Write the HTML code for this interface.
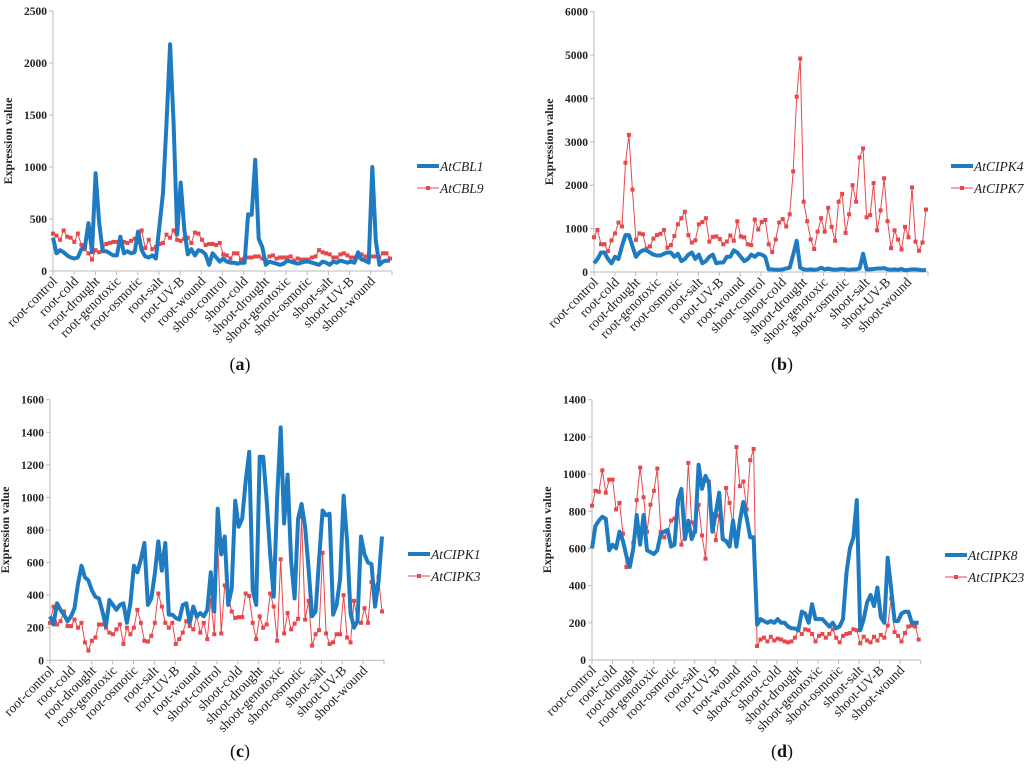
<!DOCTYPE html>
<html><head><meta charset="utf-8">
<style>
html,body{margin:0;padding:0;background:#fff;}
svg, svg text{font-family:"Liberation Serif","DejaVu Serif",serif;}
</style></head>
<body>
<svg id="root" width="1024" height="767" viewBox="0 0 1024 767" xmlns="http://www.w3.org/2000/svg" font-family="Liberation Serif, serif"></svg>
<script>
const categories = ["root-control","root-cold","root-drought","root-genotoxic","root-osmotic","root-salt","root-UV-B","root-wound","shoot-control","shoot-cold","shoot-drought","shoot-genotoxic","shoot-osmotic","shoot-salt","shoot-UV-B","shoot-wound"];

const cbl1 = [320,170,200,180,150,130, 120,130,210,230,460,180, 940,470,190,190,170,150, 150,330,170,190,170,180, 380,200,140,130,150,120, 430,750,1420,2180,1420,350, 850,400,160,210,150,200, 190,160,60,170,130,90, 120,90,80,80,70,80, 80,545,540,1070,310,230, 60,90,80,70,60,70, 100,90,80,70,80,90, 90,80,70,60,90,80, 60,90,80,100,90,80, 90,80,180,110,100,80, 1000,290,60,90,100,100];
const cbl9 = [360,340,300,390,330,320, 280,360,250,210,170,110, 200,180,230,260,270,280, 280,250,280,270,290,310, 280,390,220,300,210,230, 260,270,350,320,390,300, 290,310,320,270,370,360, 300,250,260,260,250,270, 160,150,120,170,170,110, 120,130,130,140,140,120, 100,140,150,120,130,130, 130,140,100,120,110,110, 110,130,140,200,180,170, 160,130,130,160,170,150, 130,130,130,160,140,130, 140,140,130,170,170,120];
const cipk4 = [200,300,450,450,300,200, 350,300,600,850,850,600, 350,450,500,500,450,400, 380,380,420,450,450,350, 420,250,300,400,450,300, 400,200,250,350,400,200, 220,220,350,350,500,450, 350,250,300,400,350,420, 400,350,60,60,50,50, 60,80,100,400,720,100, 60,50,60,50,60,100, 60,80,60,50,60,70, 60,50,60,60,80,420, 60,60,70,80,80,90, 60,50,60,50,70,40, 50,60,60,50,40,50];
const cipk7 = [800,970,640,640,480,730, 890,1140,1050,2520,3160,1900, 740,890,870,540,590,770, 850,880,970,560,620,830, 1100,1240,1390,850,680,730, 1100,1150,1240,700,810,820, 760,640,700,840,720,1170, 820,800,640,620,1210,980, 1150,1200,640,460,750,1140, 1220,1050,1330,2320,4040,4920, 1620,1170,750,530,930,1240, 930,1480,1040,720,1620,1800, 900,1330,2000,1620,2640,2850, 1260,1310,2050,960,1420,2160, 1170,550,960,750,520,1040, 800,1950,700,490,680,1440];
const cipk1 = [270,220,350,310,280,240, 270,320,470,580,510,490, 430,390,380,300,210,370, 340,310,340,350,230,350, 580,540,620,720,340,380, 530,730,550,720,280,280, 260,250,340,350,230,330, 270,290,270,310,540,300, 930,650,760,340,440,980, 820,870,1100,1280,430,340, 1250,1250,980,650,390,1000, 1430,840,1140,610,380,870, 960,820,560,270,300,620, 920,890,900,280,340,500, 1010,730,290,200,240,760, 650,600,590,330,480,760];
const cipk3 = [230,330,220,240,300,210, 210,250,200,230,110,60, 120,140,220,220,200,170, 160,190,220,100,200,160, 200,310,230,120,115,150, 230,410,330,230,200,230, 100,130,170,240,210,190, 270,170,230,130,370,160, 710,165,460,400,300,260, 265,265,410,395,230,130, 270,200,220,410,330,120, 620,165,290,190,225,255, 880,250,365,90,160,185, 660,165,100,110,160,160, 400,140,110,365,240,230, 320,230,480,450,510,300];
const cipk8 = [600,720,750,770,760,590, 620,600,690,640,560,500, 600,780,620,780,590,580, 570,590,680,690,700,610, 620,860,920,650,750,650, 700,1050,920,990,950,690, 790,900,650,640,610,750, 610,750,850,760,660,660, 190,220,210,200,210,200, 220,200,200,180,170,170, 160,260,250,200,300,220, 220,220,200,180,200,170, 180,220,470,600,660,860, 160,220,310,350,290,390, 230,200,550,380,210,210, 250,260,260,200,200,200];
const cipk23 = [830,910,905,1020,900,970, 970,810,845,680,500,540, 630,860,1035,875,690,835, 910,1030,690,660,690,750, 760,845,620,680,1060,740, 690,835,670,545,960,785, 645,775,660,925,845,720, 1145,935,960,810,1075,1135, 75,110,120,100,125,105, 115,110,100,95,100,120, 160,140,165,160,140,100, 130,140,120,140,165,120, 95,130,140,145,165,160, 90,125,105,95,125,105, 135,120,185,330,150,130, 100,145,180,185,180,110];

const ticksA = [0,500,1000,1500,2000,2500];
const ticksB = [0,1000,2000,3000,4000,5000,6000];
const ticksC = [0,200,400,600,800,1000,1200,1400,1600];
const ticksD = [0,200,400,600,800,1000,1200,1400];

const NS = "http://www.w3.org/2000/svg";
const svg = document.getElementById('root');
const FF = '"Liberation Serif", "DejaVu Serif", serif';
function mk(tag, attrs, parent){const e=document.createElementNS(NS,tag);for(const k in attrs)e.setAttribute(k,attrs[k]);if(tag==='text'){e.style.fontFamily=FF;}(parent||svg).appendChild(e);return e;}

function panel(cfg){
  const g = mk('g',{});
  
  
  const {x0,x1,y0,y1,ticks,maxV} = cfg;
  const yS = v => y0 - (v/maxV)*(y0-y1);
  const n = cfg.s1.length;
  const xS = i => x0 + i*(x1-x0-2)/(n-1);
  const ya = mk('line',{x1:x0,y1:y1,x2:x0,y2:y0,stroke:'#bbb','stroke-width':1},g);
   
  ticks.forEach(t=>{
    const y=yS(t);
    mk('line',{x1:x0-4,y1:y,x2:x0,y2:y,stroke:'#bbb'},g);
    const tx=mk('text',{x:x0-6,y:y+4,'text-anchor':'end','font-size':'11.5','font-weight':'bold',fill:'#222'},g);
    tx.textContent=t;
     
  });
  const xa = mk('line',{x1:x0,y1:y0,x2:x1,y2:y0,stroke:'#bbb','stroke-width':1},g);
   
  const gw=(x1-x0)/categories.length;
  for(let i=0;i<=categories.length;i++){
    mk('line',{x1:x0+i*gw,y1:y0,x2:x0+i*gw,y2:y0+4,stroke:'#bbb'},g);
  }
  categories.forEach((c,i)=>{
    const tx=x0+i*gw+5, ty=y0+11;
    const t=mk('text',{x:tx,y:ty,'text-anchor':'end','font-size':'13.5',fill:'#222',transform:`rotate(-45 ${tx} ${ty})`},g);
    t.textContent=c;
     
  });
  const yt=mk('text',{x:cfg.ytx,y:(y0+y1)/2,'text-anchor':'middle','font-size':'12','font-weight':'bold',fill:'#222',transform:`rotate(-90 ${cfg.ytx} ${(y0+y1)/2})`},g);
  yt.textContent='Expression value';
   
  const p2=cfg.s2.map((v,i)=>xS(i).toFixed(1)+','+yS(v).toFixed(1)).join(' ');
  const l2=mk('polyline',{points:p2,fill:'none',stroke:'#e8474b','stroke-width':1},g);
   
  cfg.s2.forEach((v,i)=>{
    const m=mk('rect',{x:xS(i)-2,y:yS(v)-2,width:4,height:4,fill:'#e8474b'},g);
     
  });
  const p1=cfg.s1.map((v,i)=>xS(i).toFixed(1)+','+yS(v).toFixed(1)).join(' ');
  const l1=mk('polyline',{points:p1,fill:'none',stroke:'#1f7bc1','stroke-width':4,'stroke-linejoin':'round'},g);
   
  const lx=cfg.lx, ly=cfg.ly;
  const lg=mk('g',{},g);
   
  mk('line',{x1:lx,y1:ly,x2:lx+22,y2:ly,stroke:'#1f7bc1','stroke-width':4},lg);
  const t1=mk('text',{x:lx+23,y:ly+5,'font-size':'13.5','font-style':'italic',fill:'#222'},lg);
  t1.textContent=cfg.n1;
   
  mk('line',{x1:lx,y1:ly+22,x2:lx+22,y2:ly+22,stroke:'#e8474b','stroke-width':1},lg);
  mk('rect',{x:lx+9,y:ly+20,width:4,height:4,fill:'#e8474b'},lg);
  const t2=mk('text',{x:lx+23,y:ly+27,'font-size':'13.5','font-style':'italic',fill:'#222'},lg);
  t2.textContent=cfg.n2;
   
  const cap=mk('text',{x:cfg.cx,y:cfg.cy,'text-anchor':'middle','font-size':'18',fill:'#111'},g);
  cap.innerHTML='(<tspan font-weight="bold">'+cfg.id+'</tspan>)';
   
}

panel({id:'a',x0:53,x1:392,y0:271,y1:11,maxV:2500,ticks:ticksA,s1:cbl1,s2:cbl9,n1:'AtCBL1',n2:'AtCBL9',lx:417,ly:166,ytx:12,cx:240,cy:370});
panel({id:'b',x0:594,x1:928,y0:272,y1:11.7,maxV:6000,ticks:ticksB,s1:cipk4,s2:cipk7,n1:'AtCIPK4',n2:'AtCIPK7',lx:951,ly:166,ytx:553,cx:782,cy:370});
panel({id:'c',x0:50,x1:384,y0:660.3,y1:399.7,maxV:1600,ticks:ticksC,s1:cipk1,s2:cipk3,n1:'AtCIPK1',n2:'AtCIPK3',lx:408,ly:554,ytx:9,cx:240,cy:757});
panel({id:'d',x0:592,x1:920.7,y0:660,y1:399.7,maxV:1400,ticks:ticksD,s1:cipk8,s2:cipk23,n1:'AtCIPK8',n2:'AtCIPK23',lx:945,ly:555,ytx:551,cx:782,cy:757});
</script>
</body></html>
